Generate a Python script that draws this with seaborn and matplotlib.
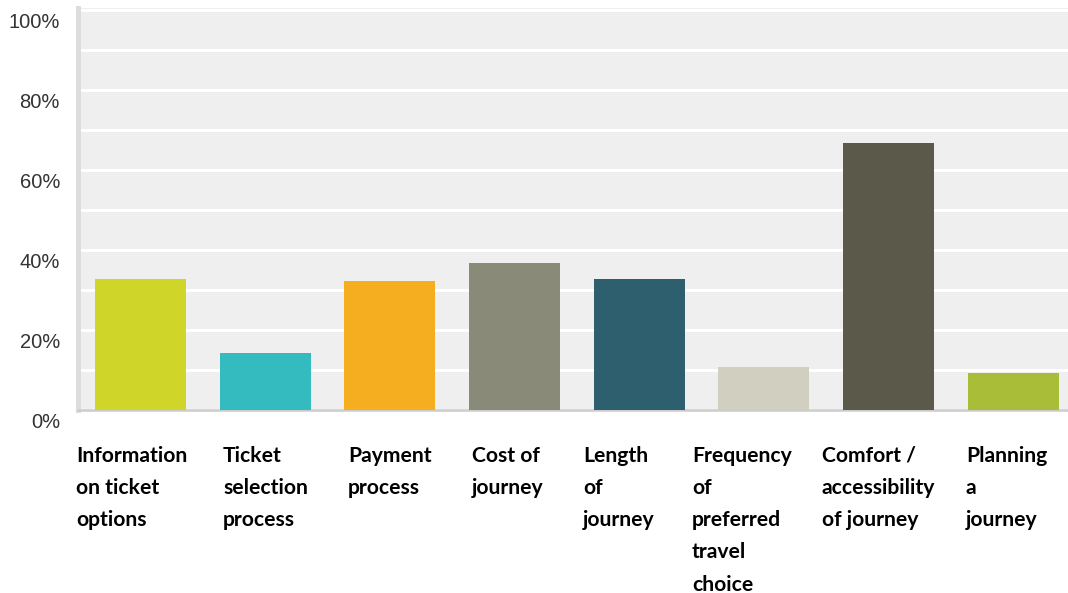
import matplotlib
matplotlib.use("Agg")
import matplotlib.pyplot as plt
import matplotlib.transforms as mtransforms
import seaborn as sns
import pandas as pd

# Survey results: share of respondents per journey aspect (%)
categories = [
    "Information on ticket options",
    "Ticket selection process",
    "Payment process",
    "Cost of journey",
    "Length of journey",
    "Frequency of preferred travel choice",
    "Comfort / accessibility of journey",
    "Planning a journey",
]
values = [32.75, 14.2, 32.25, 36.75, 32.75, 10.7, 66.8, 9.2]
colors = ["#d0d52a", "#33bbbf", "#f5ae20", "#8a8a79",
          "#2e5f6e", "#d0cfc0", "#5b5a4a", "#a9bd38"]
label_lines = [
    "Information\non ticket\noptions",
    "Ticket\nselection\nprocess",
    "Payment\nprocess",
    "Cost of\njourney",
    "Length\nof\njourney",
    "Frequency\nof\npreferred\ntravel\nchoice",
    "Comfort /\naccessibility\nof journey",
    "Planning\na\njourney",
]
label_x_px = [76, 223, 348, 472, 583, 692, 822, 966]
y_ticks = [0, 20, 40, 60, 80, 100]

W, H, DPI = 1068, 593, 100
sns.set_theme(style="white")
plt.rcParams["font.family"] = ["Liberation Sans", "DejaVu Sans"]

fig = plt.figure(figsize=(W / DPI, H / DPI), dpi=DPI)
ax = fig.add_axes([78 / W, (H - 410) / H, (W - 78) / W, (410 - 8) / H])
ax.set_facecolor("#efefef")

df = pd.DataFrame({"category": categories, "value": values})
sns.barplot(data=df, x="category", y="value", hue="category",
            palette=colors, legend=False, width=0.73, saturation=1,
            linewidth=0, ax=ax, zorder=3)

ax.set_ylim(0, 100.5)
ax.set_xlim(-0.5, (W - 78) / 124.7 - 0.5)
ax.set_axisbelow(True)
ax.set_yticks(y_ticks)
ax.set_yticks(range(10, 100, 20), minor=True)
ax.yaxis.grid(True, which="both", color="white", linewidth=2.2)
ax.set_yticklabels([f"{v}%" for v in y_ticks])
ax.tick_params(axis="y", which="both", length=0, pad=13,
               labelsize=14.5, labelcolor="#333333")
ax.set_xticks([])
ax.set_xlabel("")
ax.set_ylabel("")

# y tick labels sit slightly below their gridlines
shift = mtransforms.ScaledTranslation(0, -11 / DPI, fig.dpi_scale_trans)
for lbl in ax.get_yticklabels():
    lbl.set_transform(lbl.get_transform() + shift)

for side in ("top", "right"):
    ax.spines[side].set_visible(False)
ax.spines["left"].set_color("#dddddd")
ax.spines["left"].set_linewidth(3.6)
ax.spines["bottom"].set_color("#cccccc")
ax.spines["bottom"].set_linewidth(1.8)

fs = 15.2
for txt, xp in zip(label_lines, label_x_px):
    fig.text(xp / W, 1 - 446 / H, txt, ha="left", va="top",
             fontsize=fs, fontweight="bold", color="black",
             family=["Lato", "DejaVu Sans"], linespacing=1.76)

fig.savefig("out.png", dpi=DPI)
